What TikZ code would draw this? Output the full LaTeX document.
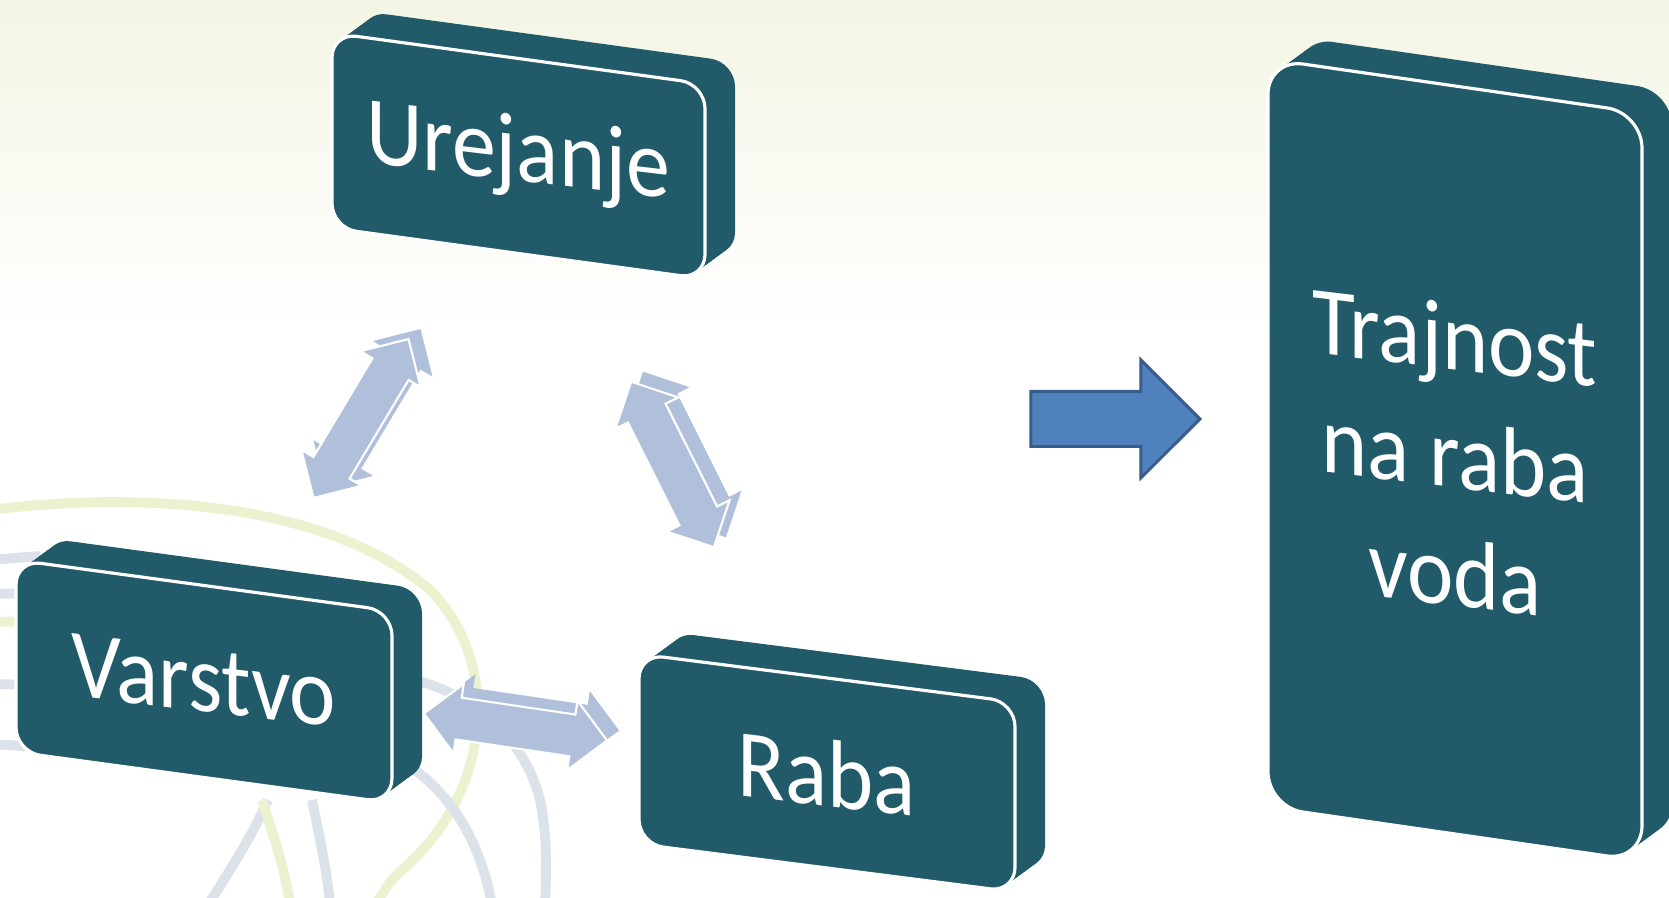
\documentclass[tikz,border=0pt]{standalone}
\usepackage{fontspec}
\setmainfont{Carlito}
\usetikzlibrary{calc, positioning, shapes.arrows}

\definecolor{slabfill}{HTML}{215A69}
\definecolor{linkfill}{HTML}{B0BFDA}
\definecolor{goalfill}{HTML}{4F81BD}
\definecolor{goalline}{HTML}{385D8A}
\definecolor{bgtop}{HTML}{F3F5E4}
\definecolor{ringgreen}{HTML}{EBF2D0}
\definecolor{ringgray}{HTML}{DCE2E9}

% slanted 3d block: [radius] left, top, width, height, drop of top edge
\newcommand{\slabbox}[6][7pt]{%
  \foreach \k in {10,9,...,1}
    \fill[slabfill, rounded corners=#1, shift={(3*\k,-2.2*\k)}]
      (#2,#3) -- ++(#4,#6) -- ++(0,#5) -- ++(-#4,-#6) -- cycle;
  \draw[white, line width=0.9pt, fill=slabfill, rounded corners=#1]
    (#2,#3) -- ++(#4,#6) -- ++(0,#5) -- ++(-#4,-#6) -- cycle;
}

\begin{document}
\begin{tikzpicture}[% pixel units, y pointing down
          x = 0.01cm, y = -0.01cm,
slab text/.style = {text=white, align=center,
                    font=\fontsize{25}{30.5}\selectfont,
                    yslant=-0.12, yscale=1.1},
     link/.style = {double arrow, fill=linkfill, sloped,
                    inner xsep=0pt, inner ysep=0.2cm,
                    minimum height=1.85cm, minimum width=0.68cm,
                    double arrow head extend=0.14cm},
link edge/.style = {link, draw=white, line width=0.6pt},
     ring/.style = {line width=2.8pt}
                    ]
	% background
	\useasboundingbox (0,0) rectangle (1669,898);
	\fill[white] (0,0) rectangle (1669,898);
	\shade[top color=bgtop, bottom color=white] (0,0) rectangle (1669,330);

	% faint rings in the lower left
	\draw[ring, ringgreen] (-10,510) .. controls (150,490) and (330,505) .. (430,590)
	                       .. controls (500,660) and (495,790) .. (402,870)
	                       .. controls (390,880) and (385,890) .. (375,905);
	\draw[ring, ringgray]  (268,800) .. controls (250,840) and (230,870) .. (208,905);
	\draw[ring, ringgreen] (262,800) .. controls (275,840) and (285,870) .. (290,905);
	\draw[ring, ringgray]  (312,800) .. controls (320,840) and (327,870) .. (330,905);
	\draw[ring, ringgray]  (400,760) .. controls (450,790) and (480,840) .. (492,905);
	\draw[ring, ringgray]  (405,678) .. controls (470,690) and (530,740) .. (542,810)
	                       .. controls (548,850) and (546,880) .. (545,905);
	\draw[ring, ringgray]  (-10,560) -- (40,556);
	\draw[ring, ringgray]  (-10,594) -- (40,593);
	\draw[ring, ringgreen] (-10,622) -- (40,621);
	\draw[ring, ringgray]  (-10,684) -- (40,685);
	\draw[ring, ringgray]  (-10,744) -- (40,747);

	% blocks
	\slabbox{332}{33}{373}{195}{51}
	\slabbox{16}{560}{376}{192}{51}
	\slabbox{639}{654}{376}{190}{48}
	\slabbox[10pt]{1268}{59}{374}{748}{54}

	\node[slab text] (urej)  at (518,156)  {Urejanje};
	\node[slab text] (varst) at (204,681)  {Varstvo};
	\node[slab text] (raba)  at (827,773)  {Raba};
	\node[slab text] (traj)  at (1455,455) {Trajnost\\na raba\\voda};

	% two-way links, back face first
	\path ([shift={(12,-10)}]varst.center) -- node[link] (vu back) {} ([shift={(12,-10)}]urej.center);
	\path ([shift={(12,-10)}]urej.center)  -- node[link] (ur back) {} ([shift={(12,-10)}]raba.center);
	\path ([shift={(12,-10)}]varst.center) -- node[link] (vr back) {} ([shift={(12,-10)}]raba.center);
	\path (varst.center) -- node[link edge] (vu) {} (urej.center);
	\path (urej.center)  -- node[link edge] (ur) {} (raba.center);
	\path (varst.center) -- node[link edge] (vr) {} (raba.center);

	% arrow to the goal
	\node[single arrow, fill=goalfill, draw=goalline, line width=0.85pt,
	      inner xsep=0pt, inner ysep=0.26cm,
	      minimum height=1.69cm, minimum width=1.15cm,
	      single arrow head extend=0.315cm, anchor=tip] (goal) at (1202,419) {};
\end{tikzpicture}
\end{document}
